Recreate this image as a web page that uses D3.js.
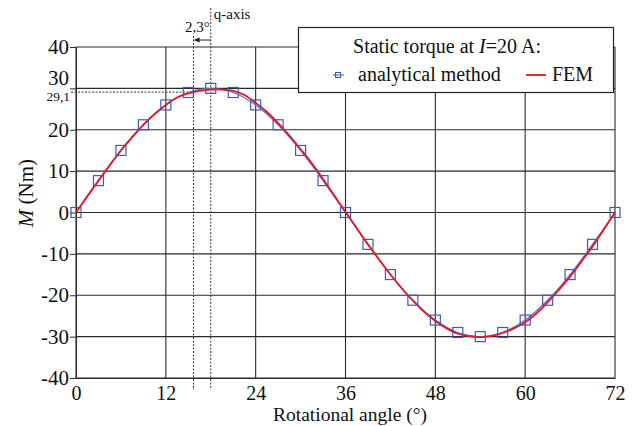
<!DOCTYPE html>
<html><head><meta charset="utf-8">
<script src="https://cdn.jsdelivr.net/npm/d3@7"></script>
<style>body{margin:0;background:#fff}svg{display:block}</style>
</head><body><svg id="c" width="632" height="426"></svg>
<script>
const xTicks = [0, 12, 24, 36, 48, 60, 72];
const yTicks = [-40, -30, -20, -10, 0, 10, 20, 30, 40];
const anaAngle = [0,3,6,9,12,15,18,21,24,27,30,33,36,39,42,45,48,51,54,57,60,63,66,69,72];
const anaTorque = [0,7.7,15,21.2,26,29,30,29,26,21.2,15,7.7,0,-7.7,-15,-21.2,-26,-29,-30,-29,-26,-21.2,-15,-7.7,0];
const femAngle = [0,1.5,3,4.5,6,7.5,9,10.5,12,13.5,15,16.5,18,19.5,21,22.5,24,25.5,27,28.5,30,31.5,33,34.5,36,37.5,39,40.5,42,43.5,45,46.5,48,49.5,51,52.5,54,55.5,57,58.5,60,61.5,63,64.5,66,67.5,69,70.5,72];
const femTorque = [0,3.9,7.7,11.4,15.0,18.2,21.2,23.8,26.0,27.8,28.8,29.4,29.7,29.7,29.4,28.4,26.5,24.3,21.6,18.6,15.3,11.9,8.1,4.1,0.2,-3.8,-7.7,-11.4,-15.0,-18.3,-21.3,-24.0,-26.2,-28.0,-29.3,-29.9,-30.1,-29.8,-29.1,-28.0,-26.5,-24.4,-21.7,-18.7,-15.5,-11.9,-8.2,-4.1,0];
const qAxis = 18, shift = 2.3, peakFEM = 29.1;

const FONT = "'Liberation Serif', 'Times New Roman', Tinos, 'DejaVu Serif', serif";
const svg = d3.select("#c");
const x = d3.scaleLinear().domain([0,72]).range([76,615]);
const y = d3.scaleLinear().domain([-40,40]).range([378,47]);
const grid = "#2a2a2a";

// grid
svg.append("g").selectAll("line").data(yTicks).join("line")
  .attr("x1",x(0)).attr("x2",x(72)).attr("y1",d=>y(d)).attr("y2",d=>y(d))
  .attr("stroke",grid).attr("stroke-width",1.1);
svg.append("g").selectAll("line").data(xTicks).join("line")
  .attr("x1",d=>x(d)).attr("x2",d=>x(d)).attr("y1",y(-40)).attr("y2",y(40))
  .attr("stroke",grid).attr("stroke-width",1.1);

// axes
const yAxis = d3.axisLeft(y).tickValues(yTicks).tickSize(6).tickFormat(d=>String(d).replace("−","-"));
const gy = svg.append("g").attr("transform",`translate(${x(0)},0)`).call(yAxis);
gy.select(".domain").attr("stroke",grid);
gy.selectAll(".tick line").attr("stroke",grid);
gy.selectAll(".tick text").style("font-family",FONT).style("font-size","21px").attr("x",-7).attr("fill","#111")
  .attr("dy", d=> d===30 ? "-0.2em" : "0.32em");
const xAxis = d3.axisBottom(x).tickValues(xTicks).tickSize(0).tickFormat(d=>d);
const gx = svg.append("g").attr("transform",`translate(0,${y(-40)})`).call(xAxis);
gx.select(".domain").attr("stroke",grid);
gx.selectAll(".tick text").style("font-family",FONT).style("font-size","20px").attr("y",8).attr("dy","0.71em").attr("fill","#111");

// annotation lines
const xs = x(qAxis - shift);
svg.append("line").attr("x1",x(qAxis)).attr("x2",x(qAxis)).attr("y1",8).attr("y2",390)
  .attr("stroke","#333").attr("stroke-dasharray","2,1.5");
svg.append("line").attr("x1",xs).attr("x2",xs).attr("y1",36).attr("y2",390)
  .attr("stroke","#333").attr("stroke-dasharray","2,1.5");
svg.append("line").attr("x1",71).attr("x2",xs).attr("y1",y(peakFEM)).attr("y2",y(peakFEM))
  .attr("stroke","#333").attr("stroke-dasharray","2,1.5");
svg.append("line").attr("x1",x(qAxis)).attr("x2",xs+4).attr("y1",40).attr("y2",40).attr("stroke","#222");
svg.append("path").attr("d",`M${xs},40 L${xs+6},37.5 L${xs+6},42.5 Z`).attr("fill","#222");
const txt = (sel)=>sel.style("font-family",FONT).attr("fill","#111");
txt(svg.append("text")).attr("x",x(qAxis)-1).attr("y",32).attr("text-anchor","end").style("font-size","15px").text("2,3°");
txt(svg.append("text")).attr("x",x(qAxis)+3).attr("y",19).style("font-size","15px").text("q-axis");
txt(svg.append("text")).attr("x",70).attr("y",101).attr("text-anchor","end").style("font-size","13.5px").text("29,1");

// series
const blue = "#3d5bb5", red = "#e8141e";
const anaData = anaAngle.map((a,i)=>[a,anaTorque[i]]);
const femData = femAngle.map((a,i)=>[a,femTorque[i]]);
svg.append("path").datum(anaData).attr("fill","none").attr("stroke","#5b74c4").attr("stroke-width",1.3)
  .attr("d",d3.line().x(d=>x(d[0])).y(d=>y(d[1])).curve(d3.curveCatmullRom));
svg.append("path").datum(femData).attr("fill","none").attr("stroke",red).attr("stroke-width",1.8)
  .attr("d",d3.line().x(d=>x(d[0])).y(d=>y(d[1])).curve(d3.curveCatmullRom));
svg.append("g").selectAll("rect").data(anaData).join("rect")
  .attr("x",d=>x(d[0])-5).attr("y",d=>y(d[1])-5).attr("width",10).attr("height",10)
  .attr("fill","none").attr("stroke",blue).attr("stroke-width",1.2);

// legend
const lg = svg.append("g");
lg.append("rect").attr("x",298.5).attr("y",27.5).attr("width",315).attr("height",65)
  .attr("fill","#fff").attr("stroke","#222").attr("stroke-width",1.2);
const t = txt(lg.append("text")).attr("x",447).attr("y",53).attr("text-anchor","middle").style("font-size","20px");
t.append("tspan").text("Static torque at ");
t.append("tspan").style("font-style","italic").text("I");
t.append("tspan").text("=20 A:");
lg.append("line").attr("x1",333).attr("x2",344).attr("y1",75).attr("y2",75).attr("stroke","#5b74c4").attr("stroke-width",1.2);
lg.append("rect").attr("x",335.5).attr("y",72.5).attr("width",5).attr("height",5).attr("fill","none").attr("stroke",blue);
txt(lg.append("text")).attr("x",358).attr("y",81).style("font-size","20px").text("analytical method");
lg.append("line").attr("x1",526).attr("x2",546).attr("y1",75).attr("y2",75).attr("stroke",red).attr("stroke-width",1.8);
txt(lg.append("text")).attr("x",552).attr("y",81).style("font-size","20px").text("FEM");

// axis titles
txt(svg.append("text")).attr("x",350).attr("y",421).attr("text-anchor","middle").style("font-size","19.5px").text("Rotational angle (°)");
const yt = txt(svg.append("text")).attr("transform","translate(33,193) rotate(-90)").attr("text-anchor","middle").style("font-size","21px");
yt.append("tspan").style("font-style","italic").text("M");
yt.append("tspan").text(" (Nm)");
</script></body></html>
